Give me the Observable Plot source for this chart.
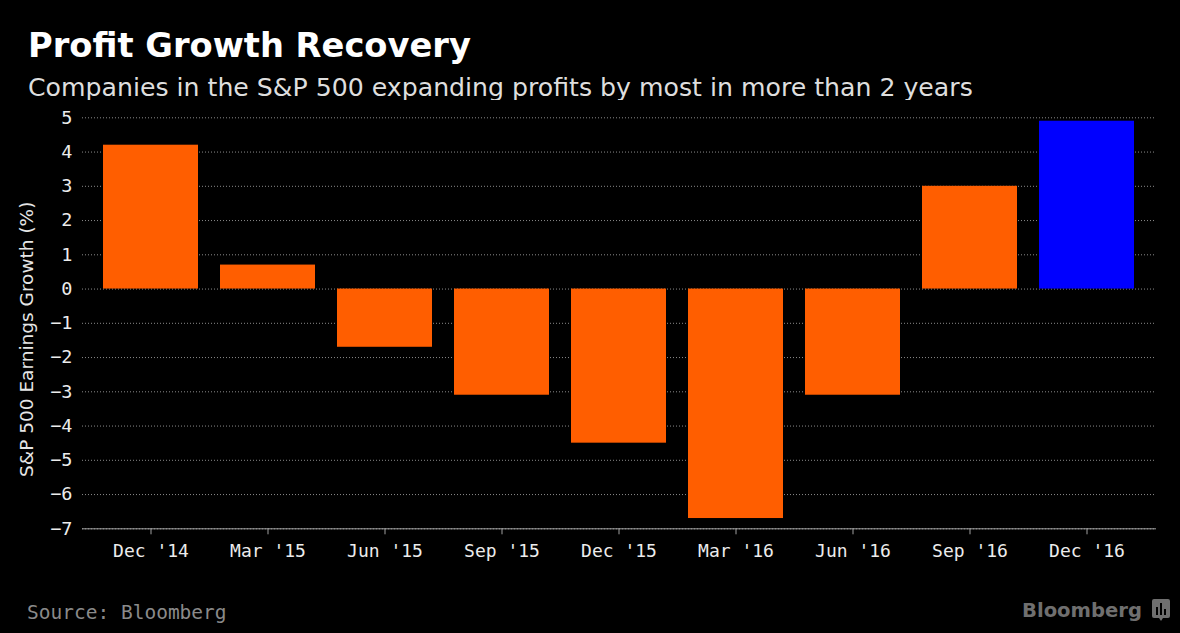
<!DOCTYPE html>
<html>
<head>
<meta charset="utf-8">
<script src="https://cdn.jsdelivr.net/npm/d3@7"></script>
<script src="https://cdn.jsdelivr.net/npm/@observablehq/plot@0.6"></script>
<style>
  html, body { margin: 0; padding: 0; background: #000; }
  body { width: 1180px; height: 633px; position: relative; overflow: hidden; font-variant-ligatures: none; }
  .t { position: absolute; white-space: nowrap; line-height: 1em; font-variant-ligatures: none; font-feature-settings: "liga" 0, "clig" 0; }
  #title { left: 28px; top: 25.5px; font: bold 33.7px "DejaVu Sans"; color: #fff; }
  #subtitle { left: 28px; top: 72.7px; font: 25.2px "DejaVu Sans"; color: #dedede; }
  #source { left: 27px; top: 601px; font: 19.5px "DejaVu Sans Mono"; color: #8a8a8a; }
  #logo { left: 1022px; top: 599px; font: bold 19.6px "DejaVu Sans"; color: #6f6f6f; }
  #logoicon { position: absolute; left: 1152px; top: 599px; }
  #chart { position: absolute; left: 0; top: 100px; }
</style>
</head>
<body>
<div class="t" id="title">Profit Growth Recovery</div>
<div class="t" id="subtitle">Companies in the S&amp;P 500 expanding profits by most in more than 2 years</div>
<div id="chart"></div>
<div class="t" id="source">Source: Bloomberg</div>
<div class="t" id="logo">Bloomberg</div>
<svg id="logoicon" width="18" height="23" viewBox="0 0 18 23">
  <path d="M2 0 H16 Q18 0 18 2 V17 Q18 19 16 19 H11 L9 22 L7 19 H2 Q0 19 0 17 V2 Q0 0 2 0 Z" fill="#6f6f6f"/>
  <rect x="4" y="8" width="2" height="8" fill="#000"/>
  <rect x="8" y="4" width="2" height="12" fill="#000"/>
  <rect x="12" y="10" width="2" height="6" fill="#000"/>
</svg>
<script>
const quarters = ["Dec '14", "Mar '15", "Jun '15", "Sep '15", "Dec '15", "Mar '16", "Jun '16", "Sep '16", "Dec '16"];
const growth = [4.2, 0.7, -1.7, -3.1, -4.5, -6.7, -3.1, 3.0, 4.9];
const kinds = ["Actual", "Actual", "Actual", "Actual", "Actual", "Actual", "Actual", "Actual", "Estimate"];
const yTicks = [-7, -6, -5, -4, -3, -2, -1, 0, 1, 2, 3, 4, 5];
const yLabel = "S&P 500 Earnings Growth (%)";

const data = quarters.map((q, i) => ({quarter: q, growth: growth[i], kind: kinds[i]}));

const chart = Plot.plot({
  width: 1180,
  height: 465,
  marginLeft: 82,
  marginRight: 24,
  marginTop: 17.3,
  marginBottom: 36.7,
  style: {background: "#000", color: "#e6e6e6", fontFamily: "DejaVu Sans Mono", fontSize: "18px", overflow: "visible"},
  x: {domain: quarters, paddingInner: 0.188, paddingOuter: 0.18, label: null},
  y: {domain: [-7, 5], label: null},
  color: {domain: ["Actual", "Estimate"], range: ["#ff5e00", "#0000ff"]},
  marks: [
    Plot.gridY(yTicks, {stroke: "#8a8a8a", strokeOpacity: 1, strokeDasharray: "1,2"}),
    Plot.barY(data, {x: "quarter", y: "growth", fill: "kind"}),
    Plot.ruleY([-7], {stroke: "#a0a0a0", strokeWidth: 1}),
    Plot.axisY(yTicks, {tickSize: 0, tickPadding: 10, label: null, fill: "#ececec", fontSize: 18.5}),
    Plot.axisX({tickSize: 6, tickPadding: 9, stroke: "#a0a0a0", fill: "#ececec", fontSize: 18, label: null}),
    Plot.text([yLabel], {text: d => d, frameAnchor: "left", textAnchor: "middle", rotate: -90, dx: -55, dy: 16,
      fontFamily: "DejaVu Sans", fontSize: 18.5, fill: "#e6e6e6"})
  ]
});
document.getElementById("chart").appendChild(chart);
</script>
</body>
</html>
